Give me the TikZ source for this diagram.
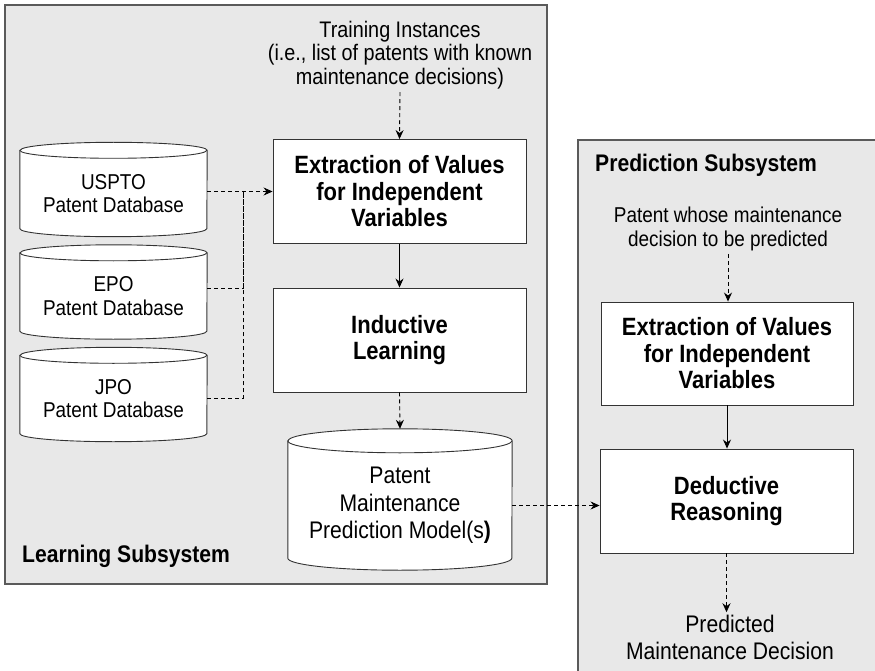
\documentclass[tikz,border=0pt]{standalone}
\usepackage{fontspec}
\setmainfont{Liberation Sans}[FakeStretch=0.88]
\usetikzlibrary{arrows.meta}

\definecolor{panelfill}{HTML}{E8E8E8}
\definecolor{panelline}{HTML}{5A5A5A}
\definecolor{boxline}{HTML}{333333}

\newcommand\plaintext{\fontsize{21.5}{23.5}\selectfont}
\newcommand\largetext{\fontsize{24}{26.5}\selectfont}
\newcommand\boldtext{\fontsize{24}{26.5}\selectfont\bfseries}
\newcommand\boxtext{\fontsize{25}{26.5}\selectfont\bfseries}

\pgfdeclarelayer{background}
\pgfdeclarelayer{shapes}
\pgfsetlayers{background,shapes,main}

\tikzset{
  panel/.style={fill=panelfill, draw=panelline, line width=1.5pt},
  procbox/.style={draw=boxline, fill=white, line width=0.9pt,
    minimum width=253pt, minimum height=104pt, align=center,
    font=\boxtext, inner sep=0pt},
  dbnode/.style={align=center, font=\plaintext, inner sep=0pt},
  note/.style={align=center, font=\plaintext, inner sep=3pt},
  paneltitle/.style={font=\boldtext, anchor=west, inner sep=0pt},
  flow/.style={-{Stealth[length=9pt,width=8pt,inset=3pt]}, line width=0.9pt},
  dataflow/.style={flow, dash pattern=on 4pt off 3pt},
  dataline/.style={line width=0.9pt, dash pattern=on 4pt off 3pt},
  cyl/.style={draw=boxline, fill=white, line width=0.9pt},
}

% database drum around node #1: half width #2, end-ellipse radius #3 (pt)
\newcommand\dbdrum[3]{%
  \begin{pgfonlayer}{shapes}
    \draw[cyl] (#1.north west) -- ([yshift=#3pt]#1.south west)
      arc[start angle=180, end angle=360, x radius=#2pt, y radius=#3pt]
      -- (#1.north east)
      arc[start angle=0, end angle=180, x radius=#2pt, y radius=#3pt] -- cycle;
    \draw[cyl, fill=none] (#1.north west)
      arc[start angle=180, end angle=360, x radius=#2pt, y radius=#3pt];
  \end{pgfonlayer}}

\begin{document}
\begin{tikzpicture}[x=1pt, y=-1pt]
  \useasboundingbox (0,0) rectangle (875,671);

  % subsystem panels
  \begin{pgfonlayer}{background}
    \draw[panel] (5,5) rectangle (547,584);
    \fill[panelfill] (578,140) rectangle (875,671);
    \draw[panelline, line width=1.5pt] (875,140) -- (578,140) -- (578,671);
  \end{pgfonlayer}

  % learning subsystem
  \node[note, font=\fontsize{22.5}{23.5}\selectfont] (train) at (400,55)
    {Training Instances\\(i.e., list of patents with known\\maintenance decisions)};
  \node[procbox] (ext1) at (399.5,191.5)
    {Extraction of Values\\for Independent\\Variables};
  \node[procbox] (ind) at (399.5,340) {Inductive\\Learning};

  \node[dbnode, minimum width=187pt, minimum height=86pt] (uspto) at (113.5,193.5)
    {USPTO\\Patent Database};
  \node[dbnode, minimum width=187pt, minimum height=86pt] (epo) at (113.5,296)
    {EPO\\Patent Database};
  \node[dbnode, minimum width=187pt, minimum height=86pt] (jpo) at (113.5,398.5)
    {JPO\\Patent Database};
  \dbdrum{uspto}{93.5}{8}
  \dbdrum{epo}{93.5}{8}
  \dbdrum{jpo}{93.5}{8}

  \node[dbnode, font=\fontsize{24}{27.5}\selectfont,
        minimum width=224pt, minimum height=129pt] (model) at (400,505.5)
    {Patent\\Maintenance\\Prediction Model(s\textbf{)}};
  \dbdrum{model}{112}{12}

  \node[paneltitle] (ltitle) at (22,556) {Learning Subsystem};

  \coordinate (junc) at (243,192);
  \draw[dataflow] (uspto.east |- ext1.west) -- (ext1.west);
  \draw[dataline] ([yshift=8pt]epo.east) -| (junc);
  \draw[dataline] (jpo.east) -| (junc);
  \draw[dataflow] (train.south) -- (ext1.north);
  \draw[flow] (ext1.south) -- (ind.north);
  \draw[dataflow] (ind.south) -- ([yshift=12pt]model.north);

  % prediction subsystem
  \node[paneltitle] (ptitle) at (595,165) {Prediction Subsystem};
  \node[note] (query) at (728,229)
    {Patent whose maintenance\\decision to be predicted};
  \node[procbox, minimum width=252pt, minimum height=103pt] (ext2) at (727,353.5)
    {Extraction of Values\\for Independent\\Variables};
  \node[procbox] (ded) at (726.5,501) {Deductive\\Reasoning};
  \node[note, font=\largetext] (pred) at (730,637.5) {Predicted\\Maintenance Decision};

  \draw[dataflow] (query.south) -- (query.south |- ext2.north);
  \draw[flow] (ext2.south) -- (ext2.south |- ded.north);
  \draw[dataflow] (ded.south) -- (ded.south |- pred.north);
  \draw[dataflow] (model.east) -- (model.east -| ded.west);
\end{tikzpicture}
\end{document}
